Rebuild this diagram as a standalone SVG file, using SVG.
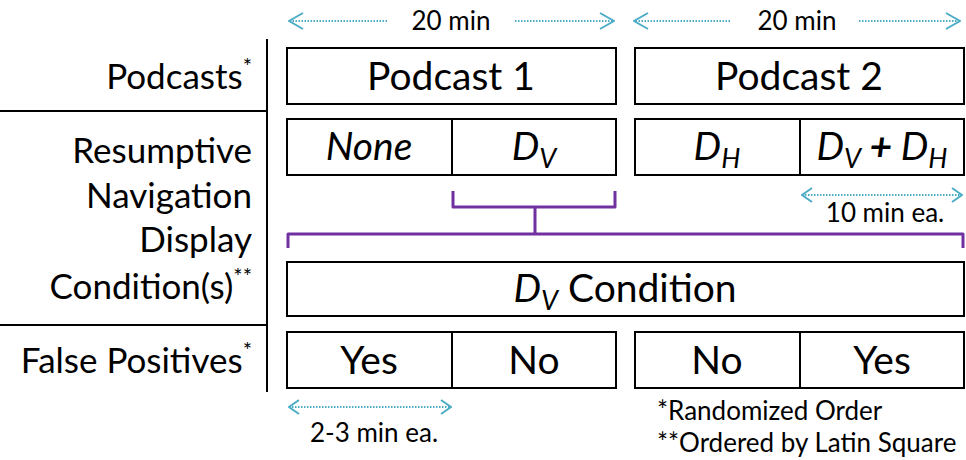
<svg xmlns="http://www.w3.org/2000/svg" width="966" height="460" viewBox="0 0 966 460">
<style>
  .box { fill: #fff; stroke: #000; stroke-width: 2; }
  .div { stroke: #000; stroke-width: 2; }
  .t { font-family: Lato, "Liberation Sans", sans-serif; fill: #000; }
  .lbl { font-size: 35px; text-anchor: end; }
  .big { font-size: 39px; text-anchor: middle; }
  .mid { font-size: 26px; text-anchor: middle; }
  .sm { font-size: 26px; }
  .it { font-style: italic; }
  .arrh { stroke: #4BACC6; stroke-width: 2; stroke-dasharray: 1.5 1.5; fill: none; }
  .brace { stroke: #7030A0; stroke-width: 3; fill: none; stroke-linejoin: round; }
</style>
<defs>
  <marker id="chevS" viewBox="0 0 12 16" refX="11" refY="8" markerWidth="12" markerHeight="16" markerUnits="userSpaceOnUse" orient="auto-start-reverse">
    <path d="M1,1 L11,8 L1,15" fill="none" stroke="#4BACC6" stroke-width="2"/>
  </marker>
  <marker id="chevE" viewBox="0 0 16 18" refX="15" refY="9" markerWidth="16" markerHeight="18" markerUnits="userSpaceOnUse" orient="auto">
    <path d="M1,1 L15,9 L1,17" fill="none" stroke="#4BACC6" stroke-width="2"/>
  </marker>
</defs>

<g id="axis">
  <line class="div" x1="267" y1="39" x2="267" y2="392"/>
  <line class="div" x1="0" y1="111" x2="267" y2="111"/>
  <line class="div" x1="0" y1="325" x2="267" y2="325"/>
</g>

<g id="labels" class="t lbl">
  <text x="252" y="89">Podcasts<tspan font-size="22" dy="-15">*</tspan></text>
  <text x="252" y="163">Resumptive</text>
  <text x="252" y="208">Navigation</text>
  <text x="252" y="252">Display</text>
  <text x="252" y="299">Condition(s)<tspan font-size="22" dy="-15">**</tspan></text>
  <text x="252" y="373">False Positives<tspan font-size="22" dy="-15">*</tspan></text>
</g>

<g id="podcast1">
  <rect class="box" x="287" y="48" width="329" height="56"/>
  <text class="t big" x="451" y="90">Podcast 1</text>
</g>
<g id="podcast2">
  <rect class="box" x="635" y="48" width="329" height="56"/>
  <text class="t big" x="799" y="90">Podcast 2</text>
</g>

<g id="cond-left">
  <rect class="box" x="287" y="119" width="329" height="56"/>
  <line class="div" x1="452" y1="119" x2="452" y2="175"/>
  <text class="t big it" x="369" y="160">None</text>
  <text class="t big it" x="534" y="160">D<tspan font-size="27" dy="8">V</tspan></text>
</g>
<g id="cond-right">
  <rect class="box" x="635" y="119" width="329" height="56"/>
  <line class="div" x1="800" y1="119" x2="800" y2="175"/>
  <text class="t big it" x="717" y="160">D<tspan font-size="27" dy="8">H</tspan></text>
  <text class="t big it" x="882" y="160">D<tspan font-size="27" dy="8">V</tspan><tspan dy="-8" font-weight="bold"> + </tspan>D<tspan font-size="27" dy="8">H</tspan></text>
</g>

<g id="dv-condition">
  <rect class="box" x="287" y="262" width="677" height="54"/>
  <text class="t big" x="625" y="302"><tspan class="it">D</tspan><tspan class="it" font-size="27" dy="8">V</tspan><tspan dy="-8"> Condition</tspan></text>
</g>

<g id="fp-left">
  <rect class="box" x="287" y="332" width="329" height="56"/>
  <line class="div" x1="452" y1="332" x2="452" y2="388"/>
  <text class="t big" x="369" y="374">Yes</text>
  <text class="t big" x="534" y="374">No</text>
</g>
<g id="fp-right">
  <rect class="box" x="635" y="332" width="329" height="56"/>
  <line class="div" x1="800" y1="332" x2="800" y2="388"/>
  <text class="t big" x="717" y="374">No</text>
  <text class="t big" x="882" y="374">Yes</text>
</g>

<g id="connectors">
  <path class="brace" d="M453,191 V207 H615 V191 M535,207 V234 M288,248 V234 H963 V248"/>
  <line class="arrh" x1="387" y1="21" x2="289" y2="21" marker-end="url(#chevE)"/>
  <line class="arrh" x1="515" y1="21" x2="614" y2="21" marker-end="url(#chevE)"/>
  <line class="arrh" x1="730" y1="21" x2="634" y2="21" marker-end="url(#chevE)"/>
  <line class="arrh" x1="859" y1="21" x2="960" y2="21" marker-end="url(#chevE)"/>
  <line class="arrh" x1="802" y1="195" x2="962" y2="195" marker-start="url(#chevS)" marker-end="url(#chevS)"/>
  <line class="arrh" x1="289" y1="407" x2="451" y2="407" marker-start="url(#chevS)" marker-end="url(#chevS)"/>
</g>

<g id="annotations" class="t">
  <text class="mid" x="451" y="30">20 min</text>
  <text class="mid" x="797" y="30">20 min</text>
  <text class="sm" x="885" y="222" text-anchor="middle">10 min ea.</text>
  <text class="sm" x="374" y="442" text-anchor="middle">2-3 min ea.</text>
  <text class="sm" x="657" y="420">*Randomized Order</text>
  <text class="sm" x="657" y="452">**Ordered by Latin Square</text>
</g>
</svg>
